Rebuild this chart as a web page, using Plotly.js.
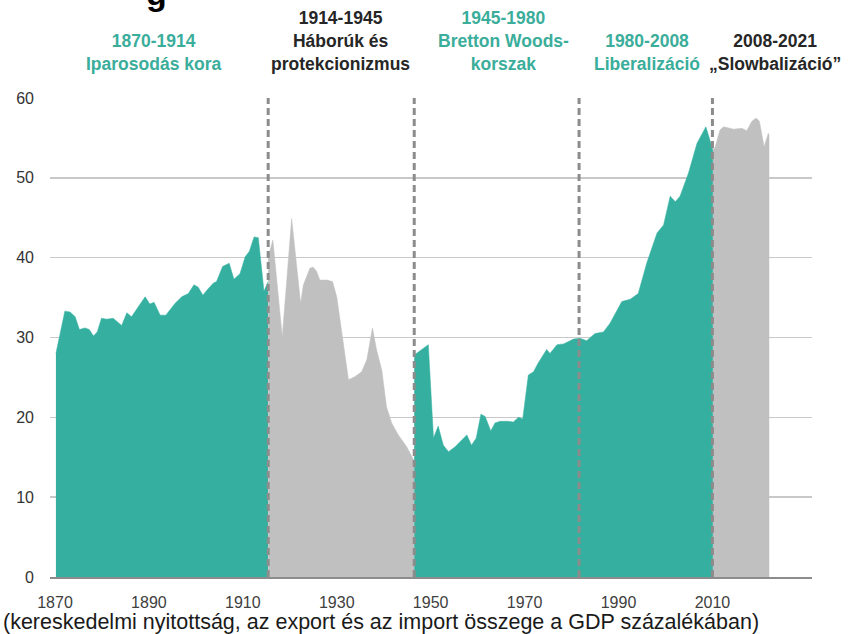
<!DOCTYPE html>
<html>
<head>
<meta charset="utf-8">
<script src="https://cdn.plot.ly/plotly-3.0.1.min.js"></script>
<style>html,body{margin:0;padding:0;background:#fff;}#chart{width:854px;height:634px;}</style>
</head>
<body>
<div id="chart"></div>
<script>
// 1870-1914 (green)
const g1Years = [1870.2, 1870.7, 1872.1, 1873.2, 1874.3, 1875.2, 1876.4, 1877.3, 1878.2, 1879.0, 1879.9, 1881.0, 1882.4, 1884.2, 1885.3, 1886.3, 1889.2, 1890.2, 1891.1, 1892.4, 1893.6, 1895.6, 1897.0, 1898.4, 1899.6, 1900.5, 1901.5, 1902.3, 1903.7, 1904.4, 1905.7, 1907.1, 1908.1, 1909.4, 1910.5, 1911.4, 1912.4, 1913.3, 1914.5, 1915.4];
const g1Vals  = [28.0, 29.3, 33.3, 33.2, 32.6, 31.0, 31.2, 31.0, 30.2, 30.7, 32.4, 32.3, 32.4, 31.5, 33.1, 32.6, 35.1, 34.2, 34.4, 32.8, 32.8, 34.3, 35.1, 35.5, 36.6, 36.3, 35.3, 35.9, 36.8, 37.0, 38.9, 39.3, 37.3, 38.0, 40.1, 40.8, 42.6, 42.5, 35.8, 37.0];
// 1914-1945 (grey)
const gr1Years = [1915.4, 1916.4, 1918.4, 1920.4, 1922.3, 1922.9, 1924.3, 1925.0, 1925.7, 1926.4, 1927.9, 1929.1, 1930.0, 1931.1, 1932.5, 1933.9, 1935.3, 1936.4, 1937.6, 1938.5, 1939.6, 1940.6, 1941.7, 1943.1, 1944.9, 1945.8, 1946.5];
const gr1Vals  = [40.1, 42.2, 30.1, 44.9, 34.3, 36.6, 38.7, 38.8, 38.3, 37.2, 37.2, 37.0, 35.1, 30.5, 24.7, 25.1, 25.7, 27.2, 31.2, 28.4, 25.9, 21.3, 19.3, 17.8, 16.3, 15.3, 14.5];
// 1945-2008 (green)
const g2Years = [1946.5, 1947.4, 1949.5, 1950.6, 1951.6, 1952.7, 1953.8, 1955.2, 1956.6, 1957.7, 1958.7, 1959.7, 1960.7, 1961.6, 1962.8, 1963.7, 1964.8, 1966.5, 1967.6, 1968.7, 1969.6, 1970.8, 1971.9, 1972.9, 1974.7, 1975.4, 1976.9, 1978.3, 1979.7, 1980.4, 1981.8, 1983.2, 1985.0, 1986.8, 1988.2, 1990.7, 1992.5, 1994.2, 1996.0, 1998.2, 1999.6, 2001.0, 2002.1, 2003.1, 2004.9, 2006.7, 2008.6, 2009.5, 2010.1];
const g2Vals  = [27.8, 28.2, 29.1, 17.4, 18.9, 16.5, 15.7, 16.3, 17.2, 17.8, 16.5, 17.4, 20.4, 20.1, 18.3, 19.3, 19.5, 19.5, 19.4, 20.0, 19.8, 25.3, 25.7, 26.8, 28.5, 28.0, 29.1, 29.2, 29.6, 29.8, 29.9, 29.6, 30.5, 30.7, 31.8, 34.5, 34.8, 35.5, 39.3, 43.1, 44.1, 47.7, 47.0, 47.7, 50.6, 54.3, 56.4, 54.8, 53.5];
// 2008-2021 (grey)
const gr2Years = [2010.1, 2010.6, 2011.6, 2012.4, 2014.5, 2016.3, 2017.3, 2018.4, 2019.3, 2020.0, 2021.0, 2021.9, 2022.1];
const gr2Vals  = [53.5, 53.9, 56.0, 56.4, 56.1, 56.2, 55.9, 57.1, 57.5, 57.1, 53.9, 55.6, 55.2];

// period boundaries (dashed lines)
const boundaries = [1915.4, 1946.5, 1981.6, 2010.0];

// tick labels
const xTickVals = [1870, 1890, 1910, 1930, 1950, 1970, 1990, 2010];
const xTickText = ['1870', '1890', '1910', '1930', '1950', '1970', '1990', '2010'];
const yTickVals = [0, 10, 20, 30, 40, 50, 60];

// period headings
const periodTitles = [
  '1870-1914<br>Iparosodás kora',
  '1914-1945<br>Háborúk és<br>protekcionizmus',
  '1945-1980<br>Bretton Woods-<br>korszak',
  '1980-2008<br>Liberalizáció',
  '2008-2021<br>„Slowbalizáció”'
];
const caption = '(kereskedelmi nyitottság, az export és az import összege a GDP százalékában)';

const TEAL = '#35b0a0';
const GREY = '#c0c0c0';
const TEAL_TXT = '#3aad9b';
const DARK_TXT = '#262626';
const FONT = '"Liberation Sans", Arial, sans-serif';

function area(x, y, color) {
  return {x: x, y: y, type: 'scatter', mode: 'lines', fill: 'tozeroy',
          fillcolor: color, line: {color: color, width: 0.5}, hoverinfo: 'skip', showlegend: false};
}

const data = [
  area(g1Years, g1Vals, TEAL),
  area(gr1Years, gr1Vals, GREY),
  area(g2Years, g2Vals, TEAL),
  area(gr2Years, gr2Vals, GREY)
];

const shapes = boundaries.map(b => ({
  type: 'line', xref: 'x', yref: 'y', x0: b, x1: b, y0: 0, y1: 60,
  line: {color: '#8c8c8c', width: 3, dash: '7px,4px'}, layer: 'above'
}));

const titlePos = [
  {x: 0.1352, y: 1.096, c: TEAL_TXT},
  {x: 0.3806, y: 1.120, c: DARK_TXT},
  {x: 0.5958, y: 1.119, c: TEAL_TXT},
  {x: 0.7835, y: 1.096, c: TEAL_TXT},
  {x: 0.9514, y: 1.096, c: DARK_TXT}
];
const annotations = periodTitles.map((t, i) => ({
  text: '<b>' + t + '</b>', xref: 'paper', yref: 'paper',
  x: titlePos[i].x, y: titlePos[i].y, xanchor: 'center', yanchor: 'middle',
  showarrow: false, align: 'center',
  font: {family: FONT, size: 17.5, color: titlePos[i].c}
}));
annotations.push({
  text: caption, xref: 'paper', yref: 'paper', x: -0.064, y: -0.094,
  xanchor: 'left', yanchor: 'middle', showarrow: false,
  font: {family: FONT, size: 21.5, color: '#1a1a1a'}
});
annotations.push({
  text: '<b>g</b>', xref: 'paper', yref: 'paper', x: 0.1404, y: 1.1754,
  xanchor: 'center', yanchor: 'bottom', showarrow: false,
  font: {family: FONT, size: 34, color: '#000'}
});

const layout = {
  width: 854, height: 634,
  margin: {l: 50, r: 42, t: 98, b: 57, pad: 0},
  paper_bgcolor: '#ffffff', plot_bgcolor: '#ffffff',
  showlegend: false, hovermode: false,
  font: {family: FONT, color: '#404040'},
  xaxis: {
    range: [1868.94, 2031.2], tickvals: xTickVals, ticktext: xTickText,
    showgrid: false, zeroline: false, showline: true, linecolor: '#8c8c8c', linewidth: 2,
    ticks: '', ticklabelstandoff: 10, tickfont: {family: FONT, size: 16, color: '#404040'},
    fixedrange: true
  },
  yaxis: {
    range: [0, 60], tickvals: yTickVals, showgrid: true, gridcolor: '#c8c8c8', gridwidth: 1.5,
    zeroline: false, showline: false, ticks: '', ticklabelstandoff: 15,
    tickfont: {family: FONT, size: 16, color: '#333333'}, fixedrange: true
  },
  shapes: shapes,
  annotations: annotations
};

Plotly.newPlot('chart', data, layout, {displayModeBar: false, staticPlot: true});
</script>
</body>
</html>
